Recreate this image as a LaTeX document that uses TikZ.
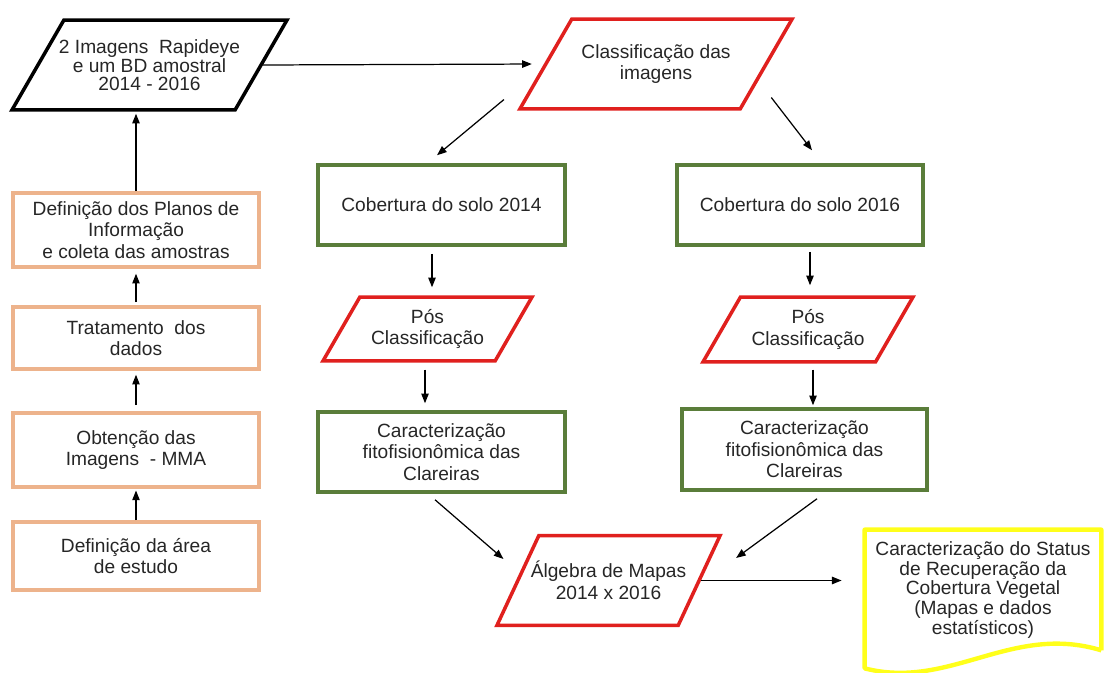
\documentclass[tikz,border=0pt]{standalone}
\usepackage{fontspec}
\setmainfont{Liberation Sans}
\usetikzlibrary{arrows.meta, positioning, shapes.geometric, calc}
\definecolor{flowred}{HTML}{E0201E}
\definecolor{flowgreen}{HTML}{5A7D3A}
\definecolor{flowpeach}{HTML}{EDB38C}
\definecolor{flowyellow}{HTML}{FFFF1A}
\definecolor{flowtext}{HTML}{262626}
\tikzset{
  txt/.style={font=\fontsize{10.9}{12.2}\selectfont, text=flowtext, align=center},
  para/.style={txt, trapezium, trapezium left angle=60, trapezium right angle=120,
    trapezium stretches body, line width=2pt, inner xsep=0pt},
  greenbox/.style={txt, draw=flowgreen, line width=2pt, minimum width=4.94cm, minimum height=1.6cm},
  peachbox/.style={txt, draw=flowpeach, line width=2pt, minimum width=4.92cm},
  arr/.style={-{Triangle[length=5.5pt,width=4.2pt]}, line width=0.7pt, black},
}
\begin{document}
\begin{tikzpicture}
  \useasboundingbox (0,0) rectangle (22.1,-13.46);
  % left column
  \node[peachbox, minimum height=1.48cm] (plan) at (2.72,-4.60) {Definição dos Planos de\\Informação\\e coleta das amostras};
  \node[peachbox, minimum height=1.24cm] (trat) at (2.72,-6.76) {Tratamento\ \ dos\\dados};
  \node[peachbox, minimum height=1.48cm] (obt) at (2.72,-9.00) {Obtenção das\\Imagens\ \ - MMA};
  \node[peachbox, minimum height=1.36cm] (area) at (2.72,-11.12) {Definição da área\\de estudo};
  \node[para, draw=black, minimum width=5.5cm, inner xsep=-4pt, inner ysep=11pt, font=\fontsize{10.9}{10}\selectfont]
    (data) at (2.99,-1.30) {2 Imagens\ \ Rapideye\\e um BD amostral\\2014 - 2016};
  % classification branch
  \node[para, draw=flowred, minimum width=5.44cm, inner ysep=14.3pt] (cls) at (13.12,-1.28) {Classificação das\\imagens};
  \node[greenbox] (cob14) at (8.83,-4.10) {Cobertura do solo 2014};
  \node[greenbox, minimum width=4.92cm] (cob16) at (16.0,-4.10) {Cobertura do solo 2016};
  \node[para, draw=flowred, minimum width=4.18cm, inner ysep=6.9pt] (pos14) at (8.55,-6.58) {Pós\\Classificação};
  \node[para, draw=flowred, minimum width=4.2cm, inner ysep=7.2pt] (pos16) at (16.16,-6.59) {Pós\\Classificação};
  \node[greenbox] (car14) at (8.83,-9.04) {Caracterização\\fitofisionômica das\\Clareiras};
  \node[greenbox, minimum width=4.9cm, minimum height=1.62cm] (car16) at (16.09,-8.99) {Caracterização\\fitofisionômica das\\Clareiras};
  \node[para, trapezium left angle=65, trapezium right angle=115, draw=flowred, minimum width=4.46cm,
    inner xsep=-8pt, inner ysep=14.6pt] (alg) at (12.17,-11.61) {Álgebra de Mapas\\2014 x 2016};
  \node[txt, font=\fontsize{10.9}{9.5}\selectfont, minimum width=4.72cm, minimum height=2.4cm, inner sep=0pt]
    (res) at (19.66,-11.80) {Caracterização do Status\\de Recuperação da\\Cobertura Vegetal\\(Mapas e dados\\estatísticos)};
  \draw[flowyellow, line width=2.5pt, line join=round] (res.south east) -- (res.north east) -- (res.north west)
    -- ($(res.south west)+(0,-0.36)$)
    .. controls ($(res.south west)+(1.7,-0.8)$) and ($(res.south east)+(-1.8,0.55)$) .. (res.south east);
  % arrows
  \draw[arr, shorten >=1pt] (area.north) -- (obt.south);
  \draw[arr, shorten <=0.12cm, shorten >=0.08cm] (obt.north) -- (trat.south);
  \draw[arr, shorten <=0.06cm, shorten >=0.1cm] (trat.north) -- (plan.south);
  \draw[arr, shorten >=0.04cm] (plan.north) -- (plan.north |- data.south);
  \draw[arr, shorten >=0.24cm] (data.east) -- (cls.west);
  \draw[arr] ($(cls.bottom left corner)+(-0.26,0.22)$) -- ($(cob14.north)+(-0.09,0.16)$);
  \draw[arr] ($(cls.bottom right corner)+(0.60,0.26)$) -- ($(cob16.north)+(0.24,0.26)$);
  \draw[arr] ($(cob14.south)+(-0.19,-0.14)$) -- ($(cob14.south |- pos14.north)+(-0.19,0.16)$);
  \draw[arr] ($(cob16.south)+(0.20,-0.10)$) -- ($(cob16.south |- pos16.north)+(0.20,0.20)$);
  \draw[arr] ($(pos14.south)+(-0.05,-0.14)$) -- ($(pos14.south |- car14.north)+(-0.05,0.14)$);
  \draw[arr] ($(pos16.south)+(0.10,-0.12)$) -- ($(pos16.south |- car16.north)+(0.10,0.04)$);
  \draw[arr] ($(car14.south)+(-0.13,-0.12)$) -- ($(alg.west)+(-0.25,0.43)$);
  \draw[arr] ($(car16.south)+(0.25,-0.14)$) -- ($(alg.east)+(0.70,0.45)$);
  \draw[arr, shorten >=0.46cm] (alg.east) -- (alg.east -| res.west);
\end{tikzpicture}
\end{document}
